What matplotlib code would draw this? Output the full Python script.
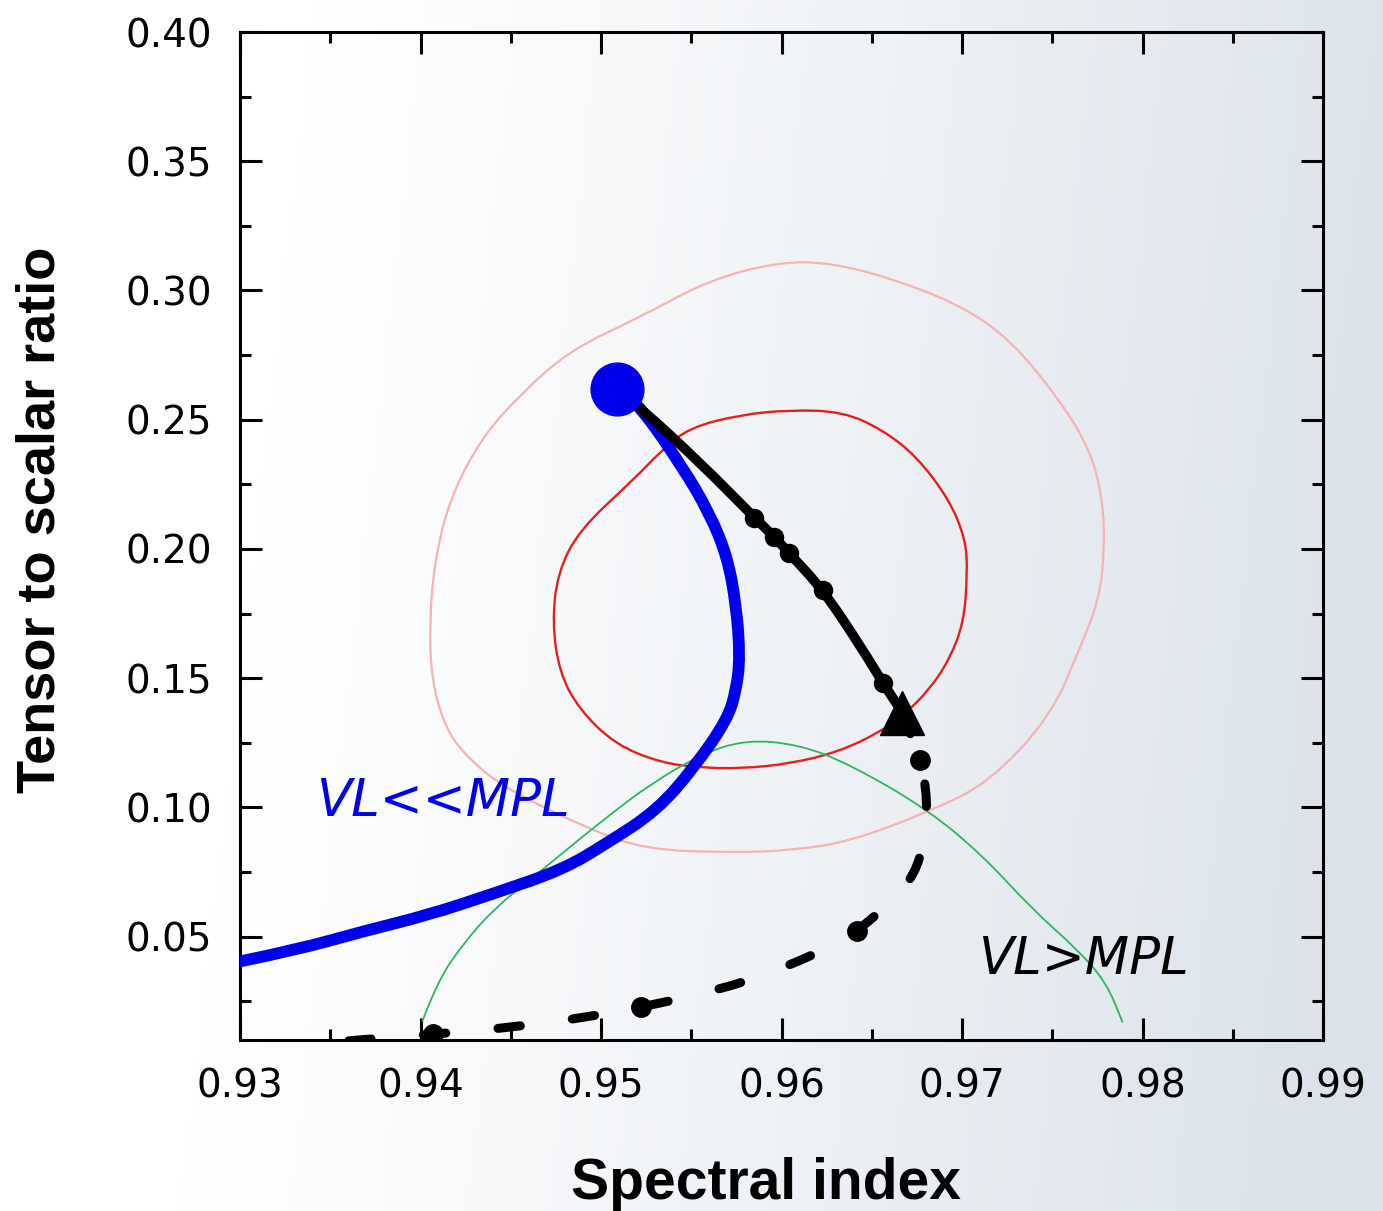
import numpy as np
import matplotlib
matplotlib.use("Agg")
import matplotlib.pyplot as plt
from matplotlib.path import Path
from matplotlib.patches import PathPatch
from matplotlib.ticker import MultipleLocator, FormatStrFormatter

# ---------------- data ----------------
# blue trajectory (VL << MPL)
blue_x = [0.9300, 0.9332, 0.9368, 0.9405, 0.9442, 0.9479, 0.9503, 0.9531, 0.9552,
          0.9570, 0.9575, 0.9577, 0.9575, 0.9570, 0.9560, 0.9545, 0.9522, 0.9509]
blue_y = [0.0404, 0.0450, 0.0520, 0.0585, 0.0670, 0.0760, 0.0860, 0.0988, 0.1158,
          0.1340, 0.1456, 0.1583, 0.1777, 0.1970, 0.2140, 0.2318, 0.2550, 0.2620]
start_x = [0.9509]
start_y = [0.2620]

# black solid trajectory
black_x = [0.9509, 0.9522, 0.9555, 0.9585, 0.9596, 0.9604, 0.9623, 0.9645, 0.9656, 0.9667]
black_y = [0.2620, 0.2545, 0.2333, 0.2121, 0.2047, 0.1985, 0.1842, 0.1610, 0.1483, 0.1367]
black_dot_x = [0.9585, 0.9596, 0.9604, 0.9623, 0.9656]
black_dot_y = [0.2121, 0.2047, 0.1985, 0.1842, 0.1483]
tri_x = [0.9667]
tri_y = [0.1367]

# black dashed trajectory (VL > MPL)
dash_x = [0.9667, 0.9677, 0.9681, 0.9679, 0.9674, 0.9660, 0.9642, 0.9621,
          0.9594, 0.9566, 0.9522, 0.9494, 0.9455, 0.9407, 0.9368, 0.9333]
dash_y = [0.1367, 0.1185, 0.1030, 0.0875, 0.0740, 0.0632, 0.0520, 0.0439,
          0.0361, 0.0295, 0.0226, 0.0191, 0.0152, 0.0122, 0.0102, 0.0079]
dash_dot_x = [0.9677, 0.9642, 0.9522, 0.9407]
dash_dot_y = [0.1185, 0.0520, 0.0226, 0.0122]

# inner (1 sigma) contour
c1_x = [0.9605, 0.9634, 0.9656, 0.9675, 0.9693, 0.9702, 0.9703, 0.9701, 0.9693,
        0.9682, 0.9668, 0.9655, 0.9632, 0.9605, 0.9577, 0.9555, 0.9533, 0.9508,
        0.9488, 0.9477, 0.9473, 0.9476, 0.9488, 0.9518, 0.9534, 0.9549, 0.9577]
c1_y = [0.2538, 0.2531, 0.2461, 0.2357, 0.2190, 0.2036, 0.1908, 0.1715, 0.1572,
        0.1456, 0.1359, 0.1293, 0.1216, 0.1169, 0.1150, 0.1154, 0.1173, 0.1243,
        0.1378, 0.1521, 0.1715, 0.1908, 0.2074, 0.2268, 0.2384, 0.2469, 0.2519]

# outer (2 sigma) contour
c2_x = [0.9599, 0.9627, 0.9660, 0.9699, 0.9727, 0.9754, 0.9771, 0.9778, 0.9779,
        0.9776, 0.9765, 0.9749, 0.9715, 0.9682, 0.9638, 0.9605, 0.9571, 0.9525,
        0.9494, 0.9448, 0.9427, 0.9414, 0.9406, 0.9405, 0.9408, 0.9416, 0.9433,
        0.9455, 0.9483, 0.9522, 0.9560]
c2_y = [0.3111, 0.3107, 0.3049, 0.2944, 0.2809, 0.2577, 0.2384, 0.2190, 0.1997,
        0.1804, 0.1610, 0.1351, 0.1096, 0.0984, 0.0868, 0.0833, 0.0825, 0.0837,
        0.0914, 0.1069, 0.1185, 0.1301, 0.1494, 0.1726, 0.1958, 0.2190, 0.2422,
        0.2596, 0.2770, 0.2898, 0.3041]

# green curve
green_x = [0.9401, 0.9409, 0.9424, 0.9442, 0.9461, 0.9481, 0.9505, 0.9527, 0.9555,
           0.9580, 0.9610, 0.9638, 0.9681, 0.9712, 0.9739, 0.9764, 0.9780, 0.9789]
green_y = [0.0172, 0.0322, 0.0477, 0.0616, 0.0721, 0.0837, 0.0972, 0.1088, 0.1204,
           0.1262, 0.1243, 0.1166, 0.0992, 0.0810, 0.0605, 0.0450, 0.0322, 0.0168]

xlim = (0.93, 0.99)
ylim = (0.01, 0.40)
xlabel = "Spectral index"
ylabel = "Tensor to scalar ratio"
label_blue = "VL<<MPL"
label_black = "VL>MPL"


def smooth_path(xs, ys, closed=False):
    """Quadratic-Bezier path using the read points as control points."""
    p = np.column_stack([xs, ys]).astype(float)
    if closed:
        mids = (p + np.roll(p, -1, axis=0)) / 2.0
        verts = [mids[-1]]
        codes = [Path.MOVETO]
        for i in range(len(p)):
            verts += [p[i], mids[i]]
            codes += [Path.CURVE3, Path.CURVE3]
        return Path(verts, codes)
    verts = [p[0]]
    codes = [Path.MOVETO]
    for i in range(1, len(p) - 1):
        verts += [p[i], (p[i] + p[i + 1]) / 2.0]
        codes += [Path.CURVE3, Path.CURVE3]
    verts.append(p[-1])
    codes.append(Path.LINETO)
    return Path(verts, codes)


# ---------------- figure ----------------
W, H = 1383, 1211
fig = plt.figure(figsize=(W / 100, H / 100), dpi=100)

# background gradient
bg = fig.add_axes([0, 0, 1, 1], zorder=-10)
u = np.linspace(0, 1, 400)[None, :]
v = np.linspace(0, 1, 350)[:, None]  # 0 top -> 1 bottom
t = np.clip((u - 0.18) / 0.82 + 0.12 * (v - 0.5), 0, 1) ** 1.15
c0 = np.array([1.0, 1.0, 1.0])
c1 = np.array([219, 226, 234]) / 255.0
img = c0[None, None, :] * (1 - t[..., None]) + c1[None, None, :] * t[..., None]
bg.imshow(img, aspect="auto", extent=[0, 1, 0, 1], origin="upper")
bg.axis("off")

ax = fig.add_axes([240 / W, 1 - 1040 / H, (1323 - 240) / W, (1040 - 32) / H])
ax.set_facecolor("none")


def add_curve(xs, ys, closed=False, **kw):
    patch = PathPatch(smooth_path(xs, ys, closed), fill=False, **kw)
    ax.add_patch(patch)
    return patch


add_curve(c2_x, c2_y, closed=True, edgecolor="#f6b3b3", lw=1.6, zorder=2)
add_curve(c1_x, c1_y, closed=True, edgecolor="#e81e1e", lw=1.7, zorder=2)
add_curve(green_x, green_y, edgecolor="#2fb560", lw=1.3, zorder=2)

add_curve(blue_x, blue_y, edgecolor="#0000ee", lw=8.5, capstyle="round",
          joinstyle="round", zorder=3)
add_curve(dash_x, dash_y, edgecolor="black", lw=6.5, linestyle=(0, (2.5, 5.8)),
          capstyle="round", zorder=4)
ax.plot(dash_dot_x, dash_dot_y, "o", color="black", ms=14, zorder=4)
add_curve(black_x, black_y, edgecolor="black", lw=7, capstyle="round",
          joinstyle="round", zorder=4)
ax.plot(black_dot_x, black_dot_y, "o", color="black", ms=13, zorder=4)
ax.plot(tri_x, tri_y, "^", color="black", ms=32, zorder=5)
ax.plot(start_x, start_y, "o", color="#0000ee", ms=38, zorder=6)

ax.text(0.9413, 0.1020, label_blue, color="#0000ee", fontsize=37,
        family="DejaVu Sans", style="italic",
        ha="center", va="center", zorder=6)
ax.text(0.9768, 0.0410, label_black, color="black", fontsize=37,
        family="DejaVu Sans", style="italic",
        ha="center", va="center", zorder=6)

ax.set_xlim(*xlim)
ax.set_ylim(*ylim)
ax.xaxis.set_major_locator(MultipleLocator(0.01))
ax.xaxis.set_minor_locator(MultipleLocator(0.005))
ax.yaxis.set_major_locator(MultipleLocator(0.05))
ax.yaxis.set_minor_locator(MultipleLocator(0.025))
ax.xaxis.set_major_formatter(FormatStrFormatter("%.2f"))
ax.yaxis.set_major_formatter(FormatStrFormatter("%.2f"))
ax.tick_params(which="both", direction="in", top=True, right=True, width=2.2,
               labelsize=28, pad=20)
ax.tick_params(which="major", length=16)
ax.tick_params(which="minor", length=8)
for lab in ax.get_xticklabels() + ax.get_yticklabels():
    lab.set_family("DejaVu Sans")
for s in ax.spines.values():
    s.set_linewidth(2.2)

fig.text(766 / W, 1 - 1199 / H, xlabel, fontsize=41, fontweight="bold",
         family=["Liberation Sans", "DejaVu Sans"],
         ha="center", va="baseline")
fig.text(41 / W, 1 - 520 / H, ylabel, fontsize=39, fontweight="bold",
         family=["Liberation Sans", "DejaVu Sans"],
         rotation=90, ha="center", va="center")

fig.savefig("out.png", dpi=100)
